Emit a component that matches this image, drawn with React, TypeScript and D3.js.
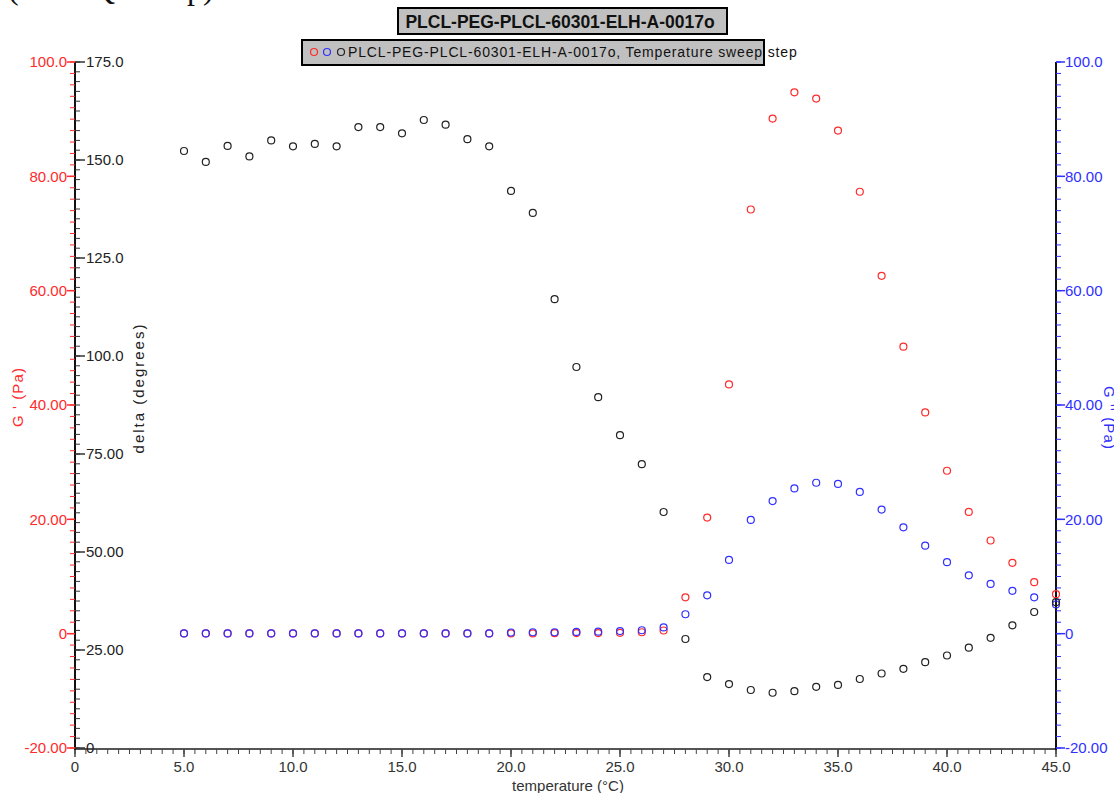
import React from 'react';
import * as d3 from 'd3';

// temperature sweep, one point per degree
const temperature = [5, 6, 7, 8, 9, 10, 11, 12, 13, 14, 15, 16, 17, 18, 19, 20, 21, 22, 23, 24, 25,
  26, 27, 28, 29, 30, 31, 32, 33, 34, 35, 36, 37, 38, 39, 40, 41, 42, 43, 44, 45];

// G' (Pa), left red axis
const gPrime = [0.05, 0.05, 0.05, 0.05, 0.05, 0.05, 0.05, 0.05, 0.05, 0.05, 0.05, 0.05, 0.05, 0.05, 0.05,
  0.05, 0.05, 0.08, 0.1, 0.1, 0.15, 0.25, 0.55, 6.35, 20.3, 43.6, 74.2, 90.1, 94.7, 93.6, 88.0,
  77.3, 62.6, 50.2, 38.7, 28.5, 21.3, 16.3, 12.4, 9.0, 6.9];

// G'' (Pa), right blue axis
const gDouble = [0.05, 0.05, 0.05, 0.05, 0.05, 0.05, 0.05, 0.05, 0.05, 0.05, 0.05, 0.05, 0.05, 0.05, 0.05,
  0.2, 0.25, 0.25, 0.3, 0.35, 0.45, 0.6, 1.1, 3.4, 6.7, 12.9, 19.9, 23.2, 25.4, 26.4, 26.2,
  24.8, 21.7, 18.6, 15.4, 12.5, 10.2, 8.7, 7.5, 6.35, 5.1];

// phase angle delta (degrees), black
const delta = [152.3, 149.5, 153.6, 150.9, 155.0, 153.5, 154.1, 153.5, 158.4, 158.4, 156.8, 160.2, 159.0,
  155.3, 153.5, 142.1, 136.5, 114.5, 97.2, 89.5, 79.8, 72.4, 60.2, 27.8, 18.1, 16.3, 14.8, 14.1,
  14.5, 15.6, 16.1, 17.6, 19.0, 20.2, 21.9, 23.6, 25.6, 28.1, 31.3, 34.7, 37.2];

const xTicks = [0, 5, 10, 15, 20, 25, 30, 35, 40, 45];
const xTickLabels = ['0', '5.0', '10.0', '15.0', '20.0', '25.0', '30.0', '35.0', '40.0', '45.0'];
const gTicks = [-20, 0, 20, 40, 60, 80, 100];
const gTickLabels = ['-20.00', '0', '20.00', '40.00', '60.00', '80.00', '100.0'];
const dTicks = [0, 25, 50, 75, 100, 125, 150, 175];
const dTickLabels = ['0', '25.00', '50.00', '75.00', '100.0', '125.0', '150.0', '175.0'];

const chartTitle = 'PLCL-PEG-PLCL-60301-ELH-A-0017o';
const legendLabel = 'PLCL-PEG-PLCL-60301-ELH-A-0017o, Temperature sweep step';

const RED = '#ff2a2a';
const BLUE = '#3030ff';
const BLACK = '#222';
const FONT = '"Liberation Sans", Arial, sans-serif';

export default function App() {
  const left = 75, right = 1056, top = 62, bottom = 748;
  const x = d3.scaleLinear().domain([0, 45]).range([left, right]);
  const yG = d3.scaleLinear().domain([-20, 100]).range([bottom, top]);
  const yD = d3.scaleLinear().domain([0, 175]).range([bottom, top]);

  const xMinor = d3.range(0, 45.01, 0.5);
  const gMinor = d3.range(-20, 100.01, 2);
  const dMinor = d3.range(0, 175.01, 2.5);

  return (
    <svg width={1114} height={793} style={{ position: 'absolute', left: 0, top: 0, background: '#fff' }}
      fontFamily={FONT}>
      {/* page heading, mostly cut off at the top */}
      <text x={8} y={-1} fontFamily="'Liberation Serif', serif" fontSize={32} fill="#111">(G' vs Q sweep)</text>

      {/* title box */}
      <rect x={398} y={8} width={329} height={26} fill="#c0c0c0" stroke="#000" strokeWidth={2} />
      <text x={560} y={27.5} textAnchor="middle" fontSize={17.5} fontWeight="bold" fill="#111">{chartTitle}</text>

      {/* legend box */}
      <rect x={302} y={40} width={462} height={25} fill="#c0c0c0" stroke="#000" strokeWidth={2} />
      <circle cx={314} cy={52} r={3.5} fill="none" stroke={RED} strokeWidth={1.2} />
      <circle cx={327} cy={52} r={3.5} fill="none" stroke={BLUE} strokeWidth={1.2} />
      <circle cx={341} cy={52} r={3.5} fill="none" stroke={BLACK} strokeWidth={1.2} />
      <text x={348} y={57} fontSize={14} letterSpacing={0.85} fill="#111">{legendLabel}</text>

      {/* x axis */}
      <line x1={left} x2={right} y1={bottom + 1} y2={bottom + 1} stroke="#555" strokeWidth={2} />
      {xMinor.map(v => (
        <line key={'xm' + v} x1={x(v)} x2={x(v)} y1={bottom + 1} y2={bottom + 6} stroke="#444" strokeWidth={1} />
      ))}
      {xTicks.map((v, i) => (
        <g key={'xt' + v}>
          <line x1={x(v)} x2={x(v)} y1={bottom + 1} y2={bottom + 9} stroke="#444" strokeWidth={1.5} />
          <text x={x(v)} y={772} textAnchor="middle" fontSize={15} fill="#333">{xTickLabels[i]}</text>
        </g>
      ))}
      <text x={568} y={791} textAnchor="middle" fontSize={15} fill="#333">temperature (°C)</text>

      {/* left axes: G' (red) and delta (black) */}
      <line x1={left} x2={left} y1={top} y2={bottom + 2} stroke="#111" strokeWidth={2} />
      {gMinor.map(v => (
        <line key={'gm' + v} x1={left - 5} x2={left} y1={yG(v)} y2={yG(v)} stroke={RED} strokeWidth={1} />
      ))}
      {gTicks.map((v, i) => (
        <g key={'gt' + v}>
          <line x1={left - 8} x2={left} y1={yG(v)} y2={yG(v)} stroke={RED} strokeWidth={1.5} />
          <text x={left - 8} y={yG(v)} dy="0.35em" textAnchor="end" fontSize={15} fill={RED}>{gTickLabels[i]}</text>
        </g>
      ))}
      {dMinor.map(v => (
        <line key={'dm' + v} x1={left} x2={left + 5} y1={yD(v)} y2={yD(v)} stroke="#333" strokeWidth={1} />
      ))}
      {dTicks.map((v, i) => (
        <g key={'dt' + v}>
          <line x1={left} x2={left + 10} y1={yD(v)} y2={yD(v)} stroke="#333" strokeWidth={1.5} />
          <text x={left + 11} y={yD(v)} dy="0.35em" fontSize={15} fill="#222">{dTickLabels[i]}</text>
        </g>
      ))}
      <text transform="translate(23,397) rotate(-90)" textAnchor="middle" fontSize={15} letterSpacing={1.1} fill={RED}>G ' (Pa)</text>
      <text transform="translate(144,388) rotate(-90)" textAnchor="middle" fontSize={15} letterSpacing={2} fill="#222">delta (degrees)</text>

      {/* right axis: G'' (blue) */}
      <line x1={right} x2={right} y1={top} y2={bottom + 2} stroke="#111" strokeWidth={2} />
      {gMinor.map(v => (
        <line key={'bm' + v} x1={right} x2={right + 5} y1={yG(v)} y2={yG(v)} stroke={BLUE} strokeWidth={1} />
      ))}
      {gTicks.map((v, i) => (
        <g key={'bt' + v}>
          <line x1={right} x2={right + 9} y1={yG(v)} y2={yG(v)} stroke={BLUE} strokeWidth={1.5} />
          <text x={right + 9} y={yG(v)} dy="0.35em" fontSize={15} fill={BLUE}>{gTickLabels[i]}</text>
        </g>
      ))}
      <text transform="translate(1104,418) rotate(90)" textAnchor="middle" fontSize={15} letterSpacing={1.1} fill={BLUE}>G '' (Pa)</text>

      {/* data */}
      {temperature.map((t, i) => (
        <circle key={'r' + t} cx={x(t)} cy={yG(gPrime[i])} r={3.5} fill="none" stroke={RED} strokeWidth={1.2} />
      ))}
      {temperature.map((t, i) => (
        <circle key={'b' + t} cx={x(t)} cy={yG(gDouble[i])} r={3.5} fill="none" stroke={BLUE} strokeWidth={1.2} />
      ))}
      {temperature.map((t, i) => (
        <circle key={'k' + t} cx={x(t)} cy={yD(delta[i])} r={3.5} fill="none" stroke={BLACK} strokeWidth={1.2} />
      ))}
    </svg>
  );
}
